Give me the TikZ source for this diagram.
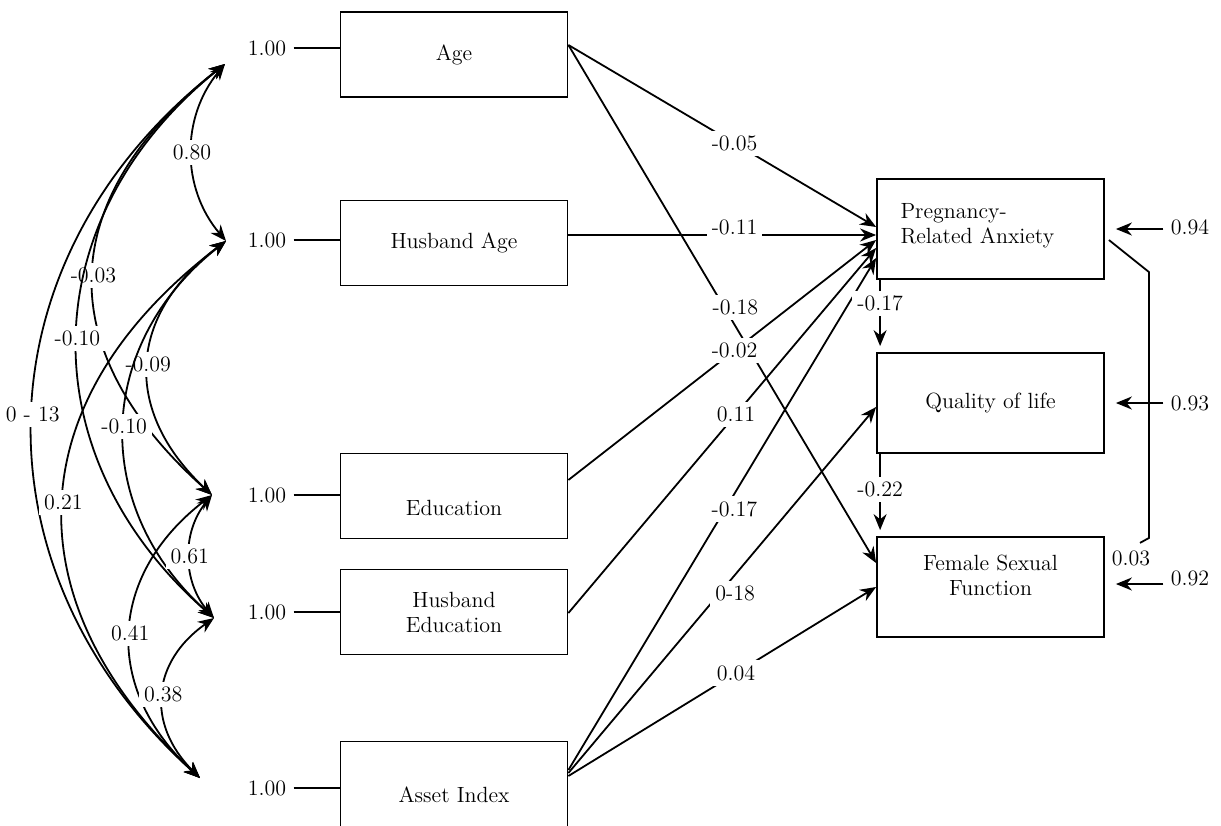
\documentclass[tikz,border=0pt]{standalone}
\usetikzlibrary{arrows.meta, positioning}
\tikzstyle{box} = [rectangle, 
			draw, 
			text centered, 
			minimum width = 113.5pt, 
			minimum height = 42.5pt]
\tikzstyle{outcome} = [rectangle, 
			draw, 
			minimum width = 113.5pt, 
			minimum height = 50pt]
\tikzstyle{line} = [draw, -{Stealth[length=8pt, width=6.5pt]}]
\tikzstyle{cov} = [draw, {Stealth[length=8pt, width=6.5pt]}-{Stealth[length=8pt, width=6.5pt]}]
\tikzstyle{coef} = [fill=white, inner sep=2.5pt]

\begin{document}
\begin{tikzpicture}[x=0.5pt, y=-0.5pt, line width=0.9pt, font=\fontsize{11}{12.5}\selectfont]
	\useasboundingbox (0,0) rectangle (1221,825);
	\clip (0,0) rectangle (1221,825);
	% exogenous variables
	\node [box] (age) at (454,54.5) {Age};
	\node [box] (hage) at (454,243) {Husband Age};
	\node [box, text height=19.6pt] (edu) at (454,496) {Education};
	\node [box, align=center] (hedu) at (454,612) {Husband\\Education};
	\node [box, text height=18.6pt] (asset) at (454,784) {Asset Index};
	% variances
	\node (vage) at (267,48) {1.00};
	\draw (vage.east) -- (vage.east -| age.west);
	\node (vhage) at (267,240) {1.00};
	\draw (vhage.east) -- (vhage.east -| hage.west);
	\node (vedu) at (267,495) {1.00};
	\draw (vedu.east) -- (vedu.east -| edu.west);
	\node (vhedu) at (267,612) {1.00};
	\draw (vhedu.east) -- (vhedu.east -| hedu.west);
	\node (vasset) at (267,788) {1.00};
	\draw (vasset.east) -- (vasset.east -| asset.west);
	% outcomes
	\node [outcome, text width=90pt, align=left, text depth=17.6pt] (pra) at (990.5,229) {Pregnancy-\\Related Anxiety};
	\node [outcome] (qol) at (990.5,403) {Quality of life};
	\node [outcome, align=center, text depth=11.5pt] (fsf) at (990.5,587) {Female Sexual\\Function};
	% residuals
	\node (rpra) at (1190,227) {0.94};
	\path [line, shorten >=5.5pt] ([yshift=-1pt]rpra.west) -- ([yshift=-1pt]rpra.west -| pra.east);
	\node (rqol) at (1190,403) {0.93};
	\path [line, shorten >=5.5pt] (rqol.west) -- (rqol.west -| qol.east);
	\node (rfsf) at (1190,578) {0.92};
	\path [line, shorten >=5.5pt] ([yshift=-3pt]rfsf.west) -- ([yshift=-3pt]rfsf.west -| fsf.east);
	\node (r03) at (1131,558) {0.03};
	\draw ([xshift=2pt, yshift=-5.5pt]pra.east) -- ++(40,32) -- ++(0,266) -- ([xshift=4.5pt]r03.north);
	% paths
	\path [line] ([yshift=4.75pt]age.east) -- node [coef, pos=0.54] {-0.05} ([yshift=1pt]pra.west);
	\path [line] ([yshift=4.75pt]age.east) -- node [coef, pos=0.507, xshift=5.5pt] {-0.18} ([yshift=12pt]fsf.west);
	\path [line] ([yshift=4pt]hage.east) -- node [coef, pos=0.54, yshift=4pt] {-0.11} ([yshift=-3pt]pra.west);
	\path [line] ([yshift=8pt]edu.east) -- node [coef, pos=0.54] {-0.02} ([yshift=-5.5pt]pra.west);
	\path [line] ([yshift=-0.5pt]hedu.east) -- node [coef, pos=0.545] {0.11} ([yshift=-9.5pt]pra.west);
	\path [line] ([yshift=7pt]asset.east) -- node [coef, pos=0.51, xshift=4.5pt] {-0.17} ([yshift=-14.5pt]pra.west);
	\path [line] ([yshift=5.5pt]asset.east) -- node [coef, pos=0.49, xshift=8pt] {0-18} ([yshift=-2pt]qol.west);
	\path [line] ([yshift=4pt]asset.east) -- node [coef, pos=0.545] {0.04} (fsf.west);
	\path [line] ([xshift=2pt]pra.south west) -- node [coef, pos=0.36] {-0.17} ([xshift=2pt, yshift=3pt]qol.north west);
	\path [line] ([xshift=2pt]qol.south west) -- node [coef, pos=0.47] {-0.22} ([xshift=2pt, yshift=3pt]fsf.north west);
	% covariances
	\coordinate (cage) at (225,64);
	\coordinate (chage) at (226,241);
	\coordinate (cedu) at (212,495);
	\coordinate (chedu) at (214,618);
	\coordinate (casset) at (200,778);
	\path [cov] (cage) to [bend right=40] node [coef] {0.80} (chage);
	\path [cov] (cage) to [bend right=50, looseness=1.29] node [coef] {-0.03} (cedu);
	\path [cov] (cage) to [bend right=50, looseness=1.14] node [coef] {-0.10} (chedu);
	\path [cov] (cage) to [bend right=50, looseness=1.12] node [coef] {0 - 13} (casset);
	\path [cov] (chage) to [bend right=50, looseness=1.24] node [coef] {-0.09} (cedu);
	\path [cov] (chage) to [bend right=50, looseness=1.13] node [coef] {-0.10} (chedu);
	\path [cov] (chage) to [bend right=50, looseness=1.24] node [coef] {0.21} (casset);
	\path [cov] (cedu) to [bend right=40] node [coef] {0.61} (chedu);
	\path [cov] (cedu) to [bend right=50, looseness=1.19] node [coef] {0.41} (casset);
	\path [cov] (chedu) to [bend right=50, looseness=1.22] node [coef] {0.38} (casset);
\end{tikzpicture}
\end{document}
